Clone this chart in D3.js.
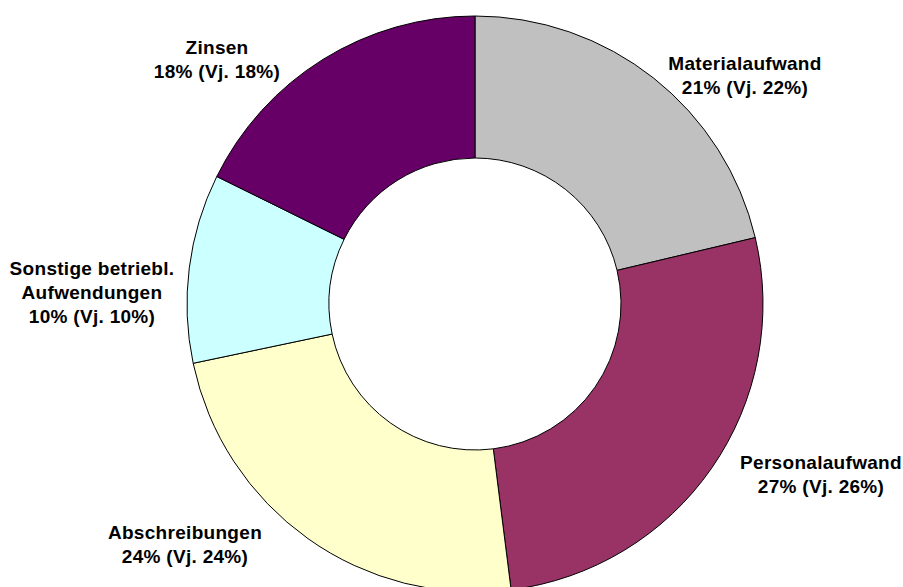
<!DOCTYPE html>
<html>
<head>
<meta charset="utf-8">
<script src="https://cdn.jsdelivr.net/npm/d3@7"></script>
<style>
  body { margin: 0; background: #fff; }
  text { font-family: "Liberation Sans", Arial, sans-serif; font-weight: bold; font-size: 19px; letter-spacing: 0.3px; fill: #000; }
</style>
</head>
<body>
<svg id="chart"></svg>
<script>
// cost shares as drawn, clockwise from 12 o'clock
var categories = ['Materialaufwand', 'Personalaufwand', 'Abschreibungen', 'Sonstige betriebl. Aufwendungen', 'Zinsen'];
var shares = [21.3, 26.7, 23.7, 10.6, 17.7];
// rounded shares shown in the labels, and prior year (Vj.)
var shownShares = [21, 27, 24, 10, 18];
var priorYear = [22, 26, 24, 10, 18];
var colors = ['#c0c0c0', '#993366', '#ffffcc', '#ccffff', '#660066'];

// label text lines per slice
var labelLines = [
    ['Materialaufwand'],
    ['Personalaufwand'],
    ['Abschreibungen'],
    ['Sonstige betriebl.', 'Aufwendungen'],
    ['Zinsen']
];

var width = 903, height = 587;
var cx = 475, cy = 304;
var outerR = 288, innerR = 146;

var svg = d3.select('#chart')
    .attr('width', width)
    .attr('height', height);

var data = categories.map(function(c, i) {
    return {name: c, value: shares[i], shown: shownShares[i], prev: priorYear[i], color: colors[i], lines: labelLines[i]};
});

var pie = d3.pie()
    .sort(null)
    .value(function(d) {return d.value;});

var arc = d3.arc()
    .innerRadius(innerR)
    .outerRadius(outerR);

var g = svg.append('g')
    .attr('transform', 'translate(' + cx + ',' + cy + ')');

g.selectAll('path')
    .data(pie(data))
    .enter()
    .append('path')
    .attr('d', arc)
    .attr('fill', function(d) {return d.data.color;})
    .attr('stroke', '#000')
    .attr('stroke-width', 1);

//label anchor (centre x, first baseline), roughly where the original put them
var labelPos = [[745, 70], [821, 469], [185, 539], [92, 275], [217, 54]];
var lineH = 24;

var labels = svg.append('g').attr('class', 'labels');
data.forEach(function(d, i) {
    var lines = d.lines.concat([d.shown + '% (Vj. ' + d.prev + '%)']);
    var t = labels.append('text')
        .attr('text-anchor', 'middle')
        .attr('x', labelPos[i][0])
        .attr('y', labelPos[i][1]);
    lines.forEach(function(l, j) {
        t.append('tspan')
            .attr('x', labelPos[i][0])
            .attr('dy', j === 0 ? 0 : lineH)
            .text(l);
    });
});
</script>
</body>
</html>
